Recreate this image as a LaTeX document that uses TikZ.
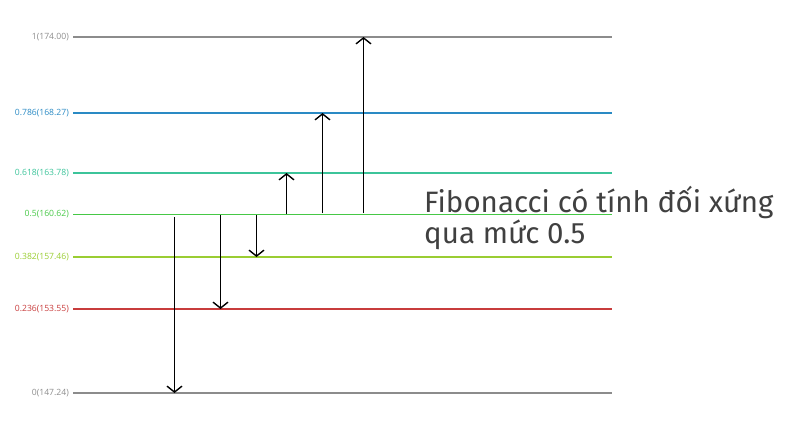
\documentclass[tikz,border=0pt]{standalone}
\usepackage{fontspec}
\setmainfont{Open Sans}
\newfontfamily\titlefont{Fira Sans}
\usetikzlibrary{arrows.meta}
\definecolor{cgray}{HTML}{8C8C8C}
\definecolor{cblue}{HTML}{2A8AC4}
\definecolor{cteal}{HTML}{3CC49A}
\definecolor{cgreen}{HTML}{46C846}
\definecolor{clime}{HTML}{9ACD32}
\definecolor{cred}{HTML}{C83C3C}
\definecolor{ctext}{HTML}{404040}
\tikzset{
  level/.style={line width=1.3pt},
  lab/.style={anchor=east, inner sep=0pt, font=\fontsize{8.6}{9}\selectfont},
  move/.style={line width=1.5pt, black, -{Straight Barb[length=6pt,width=15pt,line width=1.4pt]}}
}
\begin{document}
\begin{tikzpicture}[x=1pt,y=-1pt]
\useasboundingbox (0,0) rectangle (800,431);
% levels
\foreach \n/\y/\c/\t in {l1/37/cgray/1(174.00), l786/113/cblue/0.786(168.27), l618/173/cteal/0.618(163.78), l5/214.5/cgreen/0.5(160.62), l382/257/clime/0.382(157.46), l236/309/cred/0.236(153.55), l0/393/cgray/0(147.24)}{
  \coordinate (\n-a) at (73,\y);
  \coordinate (\n-b) at (612,\y);
  \draw[level,\c] (\n-a) -- (\n-b);
  \node[lab,text=\c] (\n-t) at (69,\y) {\t};
}
% arrows
\coordinate (s1) at (174.5,217);
\coordinate (e1) at (174.5,393);
\coordinate (s2) at (220.5,215);
\coordinate (e2) at (220.5,309);
\coordinate (s3) at (256.5,215);
\coordinate (e3) at (256.5,257);
\coordinate (s4) at (286.5,214);
\coordinate (e4) at (286.5,173);
\coordinate (s5) at (322.5,213);
\coordinate (e5) at (322.5,113);
\coordinate (s6) at (363.5,213);
\coordinate (e6) at (363.5,37);
\foreach \i in {1,...,6}{\draw[move] (s\i) -- (e\i);}
\node[anchor=base west, inner sep=0pt, align=left, text=ctext,
      font=\titlefont\fontsize{29.5}{31}\selectfont] (title) at (424,243)
  {Fibonacci có tính đối xứng\\qua mức 0.5};
\end{tikzpicture}
\end{document}
